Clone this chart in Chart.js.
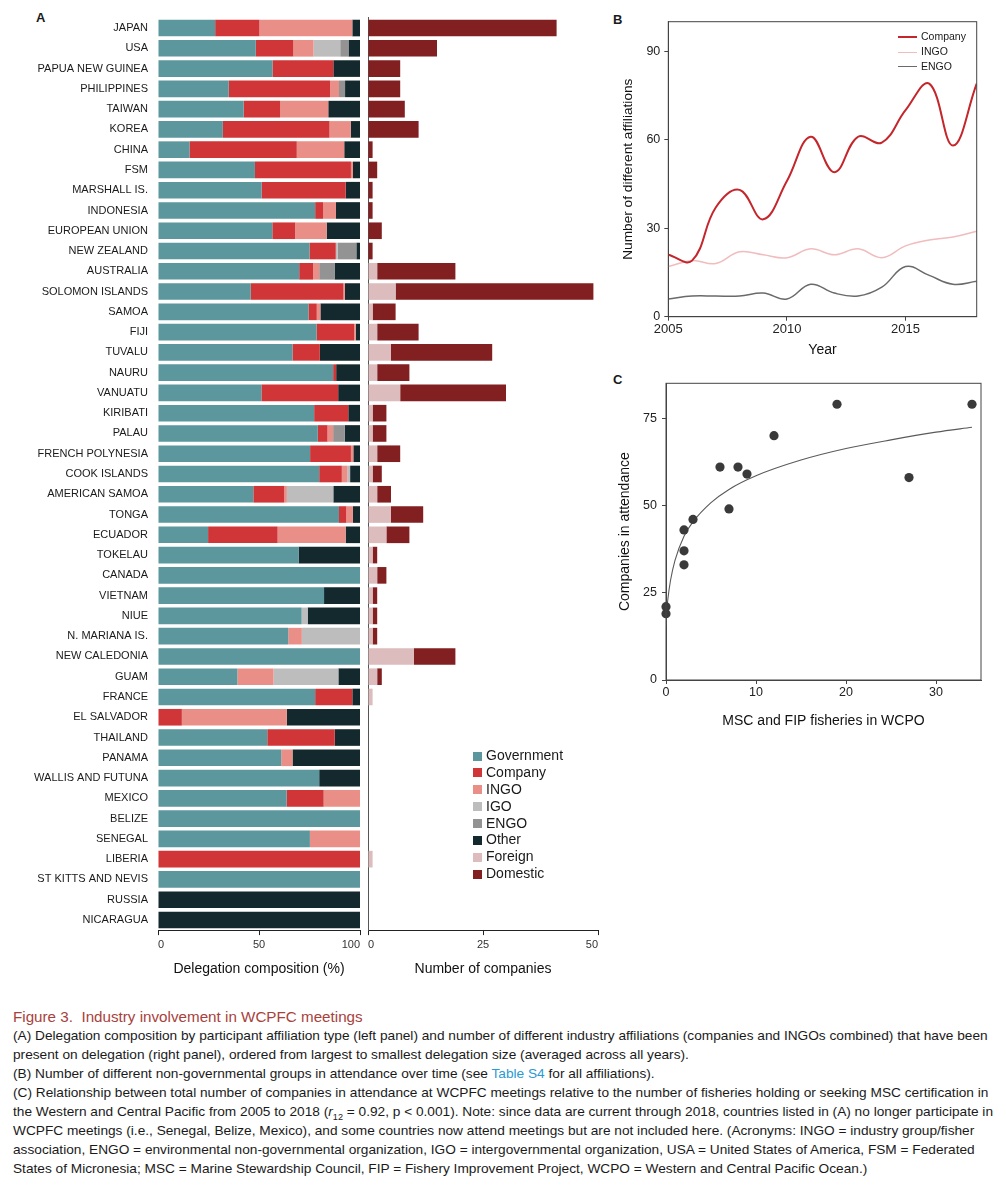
<!DOCTYPE html>
<html lang="en">
<head>
<meta charset="UTF-8">
<title>Figure 3. Industry involvement in WCPFC meetings</title>
<script src="https://cdn.jsdelivr.net/npm/chart.js"></script>
<style>
  body { margin: 0; background: #fff; font-family: "Liberation Sans", Arial, sans-serif; color: #1a1a1a; }
  #fig { position: relative; width: 1006px; height: 1200px; overflow: hidden; }
  canvas { position: absolute; }
  .letter { position: absolute; font-weight: bold; font-size: 13px; }
  .legA { position: absolute; left: 473px; top: 747px; font-size: 14px; }
  .legA div { height: 16.9px; line-height: 16.9px; white-space: nowrap; }
  .legA span { display: inline-block; width: 9px; height: 9px; margin-right: 4px; vertical-align: -0.5px; }
  .legB { position: absolute; left: 898px; top: 29px; font-size: 10.5px; }
  .legB div { height: 14.8px; line-height: 14.8px; white-space: nowrap; }
  .legB span { display: inline-block; width: 19px; margin-right: 4px; vertical-align: middle; }
  #caption { position: absolute; left: 13px; top: 1007px; font-size: 13.5px; line-height: 19px; }
  #caption div { white-space: nowrap; transform-origin: left center; }
  .ctitle { color: #a8413c; font-size: 15px; }
  .link { color: #2a9ad3; }
  sub { font-size: 9px; line-height: 0; }
</style>
</head>
<body>
<div id="fig">
  <div class="letter" style="left:36px; top:10px;">A</div>
  <div class="letter" style="left:613px; top:12px;">B</div>
  <div class="letter" style="left:613px; top:372px;">C</div>

  <canvas id="grafA1" width="363" height="980" style="left:0; top:0;"></canvas>
  <canvas id="grafA2" width="237" height="980" style="left:364px; top:0;"></canvas>
  <canvas id="grafB" width="390" height="362" style="left:610px; top:0;"></canvas>
  <canvas id="grafC" width="390" height="366" style="left:610px; top:365px;"></canvas>

  <div class="legA" id="legA"></div>
  <div class="legB" id="legB"></div>

  <div id="caption">
    <div class="ctitle">Figure 3.&nbsp; Industry involvement in WCPFC meetings</div>
    <div class="cl">(A) Delegation composition by participant affiliation type (left panel) and number of different industry affiliations (companies and INGOs combined) that have been</div>
    <div class="cl">present on delegation (right panel), ordered from largest to smallest delegation size (averaged across all years).</div>
    <div class="cl">(B) Number of different non-governmental groups in attendance over time (see <span class="link">Table S4</span> for all affiliations).</div>
    <div class="cl">(C) Relationship between total number of companies in attendance at WCPFC meetings relative to the number of fisheries holding or seeking MSC certification in</div>
    <div class="cl">the Western and Central Pacific from 2005 to 2018 (<i>r</i><sub>12</sub> = 0.92, p &lt; 0.001). Note: since data are current through 2018, countries listed in (A) no longer participate in</div>
    <div class="cl">WCPFC meetings (i.e., Senegal, Belize, Mexico), and some countries now attend meetings but are not included here. (Acronyms: INGO = industry group/fisher</div>
    <div class="cl">association, ENGO = environmental non-governmental organization, IGO = intergovernmental organization, USA = United States of America, FSM = Federated</div>
    <div class="cl">States of Micronesia; MSC = Marine Stewardship Council, FIP = Fishery Improvement Project, WCPO = Western and Central Pacific Ocean.)</div>
  </div>
</div>

<script>
// --- panel A: delegation composition (%) ---
const countries = ["JAPAN", "USA", "PAPUA NEW GUINEA", "PHILIPPINES", "TAIWAN", "KOREA", "CHINA", "FSM",
  "MARSHALL IS.", "INDONESIA", "EUROPEAN UNION", "NEW ZEALAND", "AUSTRALIA", "SOLOMON ISLANDS", "SAMOA",
  "FIJI", "TUVALU", "NAURU", "VANUATU", "KIRIBATI", "PALAU", "FRENCH POLYNESIA", "COOK ISLANDS",
  "AMERICAN SAMOA", "TONGA", "ECUADOR", "TOKELAU", "CANADA", "VIETNAM", "NIUE", "N. MARIANA IS.",
  "NEW CALEDONIA", "GUAM", "FRANCE", "EL SALVADOR", "THAILAND", "PANAMA", "WALLIS AND FUTUNA", "MEXICO",
  "BELIZE", "SENEGAL", "LIBERIA", "ST KITTS AND NEVIS", "RUSSIA", "NICARAGUA"];

const government = [28.3, 48.4, 56.7, 35, 42.4, 32.1, 15.6, 48, 51.3, 77.8, 56.6, 75, 69.9, 45.9, 74.5,
  78.5, 66.6, 86.7, 51.2, 77.3, 79.1, 75.3, 79.8, 47.2, 89.6, 24.8, 69.6, 100, 82.2, 71.1, 64.5,
  100, 39.3, 77.8, 0, 54.1, 61, 79.8, 63.7, 100, 75.2, 0, 100, 0, 0];
const company = [21.9, 18.6, 30.1, 50.2, 18.1, 52.8, 53.1, 47.5, 41.6, 3.9, 11.3, 13, 6.9, 45.9, 4.1,
  18.6, 13.5, 1.5, 38, 16.9, 4.8, 20.2, 11.2, 15.3, 3.6, 34.4, 0, 0, 0, 0, 0,
  0, 0, 18.4, 11.8, 33.4, 0, 0, 18.3, 0, 0, 100, 0, 0, 0];
const ingo = [46, 10, 0, 4.4, 23.8, 10.5, 23.5, 1, 0, 6.4, 15.6, 0, 3, 0.7, 1.8,
  0.8, 0, 0, 0, 0, 2.8, 1.2, 2.8, 1.3, 3.3, 33.7, 0, 0, 0, 0, 6.7,
  0, 17.9, 0, 52, 0, 5.6, 0, 18, 0, 24.8, 0, 0, 0, 0];
const igo = [0, 13.2, 0, 0, 0, 0, 0, 0, 0, 0, 0, 1, 0, 0, 0,
  0, 0, 0, 0, 0, 0, 0, 1.3, 23, 0, 0, 0, 0, 0, 3, 28.8,
  0, 32.1, 0, 0, 0, 0, 0, 0, 0, 0, 0, 0, 0, 0];
const engo = [0, 4.1, 0, 3, 0, 0, 0, 0, 0, 0, 0, 9.2, 7.6, 0, 0,
  0, 0, 0, 0, 0, 5.7, 0, 0, 0, 0, 0, 0, 0, 0, 0, 0,
  0, 0, 0, 0, 0, 0, 0, 0, 0, 0, 0, 0, 0, 0];
const other = [3.8, 5.7, 13.2, 7.4, 15.7, 4.6, 7.8, 3.5, 7.1, 11.9, 16.5, 1.8, 12.6, 7.5, 19.6,
  2.1, 19.9, 11.8, 10.8, 5.8, 7.6, 3.3, 4.9, 13.2, 3.5, 7.1, 30.4, 0, 17.8, 25.9, 0,
  0, 10.7, 3.8, 36.2, 12.5, 33.4, 20.2, 0, 0, 0, 0, 0, 100, 100];

// --- panel A: number of companies ---
const foreign = [0, 0, 0, 0, 0, 0, 0, 0, 0, 0, 0, 0, 2, 6, 1,
  2, 5, 2, 7, 1, 1, 2, 1, 2, 5, 4, 1, 2, 1, 1, 1,
  10, 2, 1, 0, 0, 0, 0, 0, 0, 0, 1, 0, 0, 0];
const domestic = [41, 15, 7, 7, 8, 11, 1, 2, 1, 1, 3, 1, 17, 43, 5,
  9, 22, 7, 23, 3, 3, 5, 2, 3, 7, 5, 1, 2, 1, 1, 1,
  9, 1, 0, 0, 0, 0, 0, 0, 0, 0, 0, 0, 0, 0];

// --- panel B: affiliations over time ---
const years = [2005, 2006, 2007, 2008, 2009, 2010, 2011, 2012, 2013, 2014, 2015, 2016, 2017, 2018];
const companyLine = [21, 19, 37, 43, 33, 46, 61, 49, 61, 59, 70, 79, 58, 79];
const ingoLine = [17, 19, 18, 22, 21, 20, 23, 21, 23, 20, 24, 26, 27, 29];
const engoLine = [6, 7, 7, 7, 8, 6, 11, 8, 7, 10, 17, 14, 11, 12];

// --- panel C: companies vs MSC/FIP fisheries ---
const fisheries = [0, 0, 2, 2, 2, 3, 6, 7, 8, 9, 12, 19, 27, 34];
const attendance = [21, 19, 43, 37, 33, 46, 61, 49, 61, 59, 70, 79, 58, 79];
const fitX = [0, 0.05, 0.2, 0.5, 1, 2, 3, 5, 7, 10, 15, 20, 25, 30, 34];
const fitY = [15.5, 19, 23, 28.5, 34.3, 41.2, 45.3, 50.8, 54.6, 58.5, 63, 66.3, 68.8, 71, 72.4];

const font = '"Liberation Sans", Arial, sans-serif';
Chart.defaults.font.family = font;
Chart.defaults.color = '#222';

const cores = {
  Government: '#5b979d', Company: '#d03537', INGO: '#ea8f87', IGO: '#bdbdbd',
  ENGO: '#939393', Other: '#13292d', Foreign: '#dcbcbd', Domestic: '#821f21'
};

const frame = {
  id: 'frame',
  afterDraw(c) {
    const a = c.chartArea, ctx = c.ctx;
    ctx.save();
    ctx.strokeStyle = '#444';
    ctx.lineWidth = 1;
    ctx.strokeRect(a.left, a.top, a.right - a.left, a.bottom - a.top);
    ctx.restore();
  }
};

function barSet(label, data) {
  return { label: label, data: data, backgroundColor: cores[label], borderWidth: 0,
    barPercentage: 0.82, categoryPercentage: 1 };
}

// left: composition
new Chart(document.getElementById('grafA1'), {
  type: 'bar',
  data: {
    labels: countries,
    datasets: [
      barSet('Government', government), barSet('Company', company), barSet('INGO', ingo),
      barSet('IGO', igo), barSet('ENGO', engo), barSet('Other', other)
    ]
  },
  options: {
    indexAxis: 'y', responsive: false, animation: false,
    layout: { padding: { top: 17.9, right: 2, left: 0, bottom: 0 } },
    plugins: { legend: { display: false }, tooltip: { enabled: false } },
    scales: {
      x: {
        stacked: true, min: 0, max: 100,
        ticks: { stepSize: 50, align: 'inner', padding: 3, font: { size: 11 }, color: '#333' },
        grid: { drawOnChartArea: false, tickLength: 5, color: '#222' },
        border: { color: '#222' },
        title: { display: true, text: 'Delegation composition (%)', font: { size: 14 }, color: '#111', padding: { top: 0, bottom: 2 } },
        afterFit: s => { s.height = 980 - 930.1; }
      },
      y: {
        stacked: true,
        grid: { display: false, drawTicks: false },
        border: { display: false },
        ticks: { padding: 10, autoSkip: false, font: { size: 11 }, color: '#1a1a1a' },
        afterFit: s => { s.width = 158; }
      }
    }
  }
});

// right: number of companies
new Chart(document.getElementById('grafA2'), {
  type: 'bar',
  data: {
    labels: countries,
    datasets: [barSet('Foreign', foreign), barSet('Domestic', domestic)]
  },
  options: {
    indexAxis: 'y', responsive: false, animation: false,
    layout: { padding: { top: 17.9, right: 2, left: 0, bottom: 0 } },
    plugins: { legend: { display: false }, tooltip: { enabled: false } },
    scales: {
      x: {
        stacked: true, min: 0, max: 50,
        ticks: { stepSize: 25, align: 'inner', padding: 3, font: { size: 11 }, color: '#333' },
        grid: { drawOnChartArea: false, tickLength: 5, color: '#222' },
        border: { color: '#222' },
        title: { display: true, text: 'Number of companies', font: { size: 14 }, color: '#111', padding: { top: 0, bottom: 2 } },
        afterFit: s => { s.height = 980 - 930.1; }
      },
      y: {
        stacked: true,
        grid: { display: false, drawTicks: false },
        border: { display: true, color: '#555' },
        ticks: { display: false },
        afterFit: s => { s.width = 4; }
      }
    }
  }
});

// legend A (both panels)
const legA = document.getElementById('legA');
Object.keys(cores).forEach(k => {
  legA.innerHTML += '<div><span style="background:' + cores[k] + '"></span>' + k + '</div>';
});

// panel B
const ptsB = arr => years.map((yr, i) => ({ x: yr, y: arr[i] }));
const linhas = [
  { label: 'Company', data: companyLine, color: '#c4262c', width: 2 },
  { label: 'INGO', data: ingoLine, color: '#f0bcbd', width: 1.5 },
  { label: 'ENGO', data: engoLine, color: '#6a6a6a', width: 1.5 }
];
new Chart(document.getElementById('grafB'), {
  type: 'line',
  data: {
    datasets: linhas.map(l => ({
      label: l.label, data: ptsB(l.data), borderColor: l.color, borderWidth: l.width,
      pointRadius: 0, tension: 0.4, fill: false
    }))
  },
  options: {
    responsive: false, animation: false,
    layout: { padding: { top: 21.7, right: 23.3, left: 0, bottom: 0 } },
    plugins: { legend: { display: false }, tooltip: { enabled: false } },
    scales: {
      x: {
        type: 'linear', min: 2005, max: 2018,
        ticks: { stepSize: 5, includeBounds: false, padding: 1, font: { size: 13 }, color: '#222', callback: v => String(v) },
        grid: { drawOnChartArea: false, tickLength: 4, color: '#444' },
        border: { color: '#444' },
        title: { display: true, text: 'Year', font: { size: 14 }, color: '#111', padding: { top: 0, bottom: 3.6 } },
        afterFit: s => { s.height = 362 - 316.7; }
      },
      y: {
        min: 0, max: 100,
        ticks: { stepSize: 30, includeBounds: false, padding: 4, font: { size: 12.5 }, color: '#222' },
        grid: { drawOnChartArea: false, tickLength: 4, color: '#444' },
        border: { color: '#444' },
        title: { display: true, text: 'Number of different affiliations', font: { size: 13.7 }, color: '#111', padding: { top: 9.6, bottom: 0 } },
        afterFit: s => { s.width = 58.3; }
      }
    }
  },
  plugins: [frame]
});

const legB = document.getElementById('legB');
linhas.forEach(l => {
  legB.innerHTML += '<div><span style="border-top:' + l.width + 'px solid ' + l.color + '"></span>' + l.label + '</div>';
});

// panel C
new Chart(document.getElementById('grafC'), {
  type: 'scatter',
  data: {
    datasets: [
      {
        label: 'Companies', data: fisheries.map((f, i) => ({ x: f, y: attendance[i] })),
        backgroundColor: '#3a3a3a', borderWidth: 0, pointRadius: 4.6, order: 1, clip: false
      },
      {
        label: 'Fit', type: 'line', data: fitX.map((f, i) => ({ x: f, y: fitY[i] })),
        borderColor: '#5a5a5a', borderWidth: 1.1, pointRadius: 0, cubicInterpolationMode: 'monotone', fill: false, order: 2
      }
    ]
  },
  options: {
    responsive: false, animation: false,
    layout: { padding: { top: 18.3, right: 19, left: 0, bottom: 0 } },
    plugins: { legend: { display: false }, tooltip: { enabled: false } },
    scales: {
      x: {
        type: 'linear', min: 0, max: 35,
        ticks: { stepSize: 10, includeBounds: false, padding: 1.5, font: { size: 12.5 }, color: '#222' },
        grid: { drawOnChartArea: false, tickLength: 4, color: '#444' },
        border: { color: '#444' },
        title: { display: true, text: 'MSC and FIP fisheries in WCPO', font: { size: 14 }, color: '#111', padding: { top: 0, bottom: 1 } },
        afterFit: s => { s.height = 366 - 315; }
      },
      y: {
        min: 0, max: 85,
        ticks: { stepSize: 25, includeBounds: false, padding: 5, font: { size: 12.5 }, color: '#222' },
        grid: { drawOnChartArea: false, tickLength: 4, color: '#444' },
        border: { color: '#444' },
        title: { display: true, text: 'Companies in attendance', font: { size: 14 }, color: '#111', padding: { top: 6.6, bottom: 0 } },
        afterFit: s => { s.width = 56; }
      }
    }
  },
  plugins: [frame]
});

// caption: squeeze lines to the condensed width of the original
const linhasTexto = document.querySelectorAll('#caption .cl');
const fator = 980 / linhasTexto[0].getBoundingClientRect().width;
document.querySelectorAll('#caption div').forEach(d => { d.style.transform = 'scaleX(' + fator + ')'; });
</script>
</body>
</html>
